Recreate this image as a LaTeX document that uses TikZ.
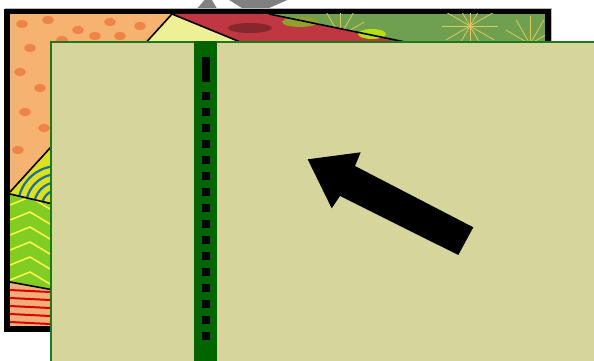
\documentclass[tikz,border=0pt]{standalone}
\definecolor{caqui}{RGB}{214,214,156}
\definecolor{bordeverde}{RGB}{30,120,30}
\definecolor{bandaverde}{RGB}{0,100,0}
\definecolor{naranjaclaro}{RGB}{246,178,112}
\definecolor{naranjaoscuro}{RGB}{236,110,40}
\definecolor{amarillopalido}{RGB}{238,240,150}
\definecolor{rojofoto}{RGB}{190,55,65}
\definecolor{verdecactus}{RGB}{110,160,80}
\definecolor{espina}{RGB}{225,200,90}
\definecolor{lima}{RGB}{130,205,35}
\definecolor{azulfoto}{RGB}{30,110,160}
\definecolor{rayas}{RGB}{240,175,120}
\begin{document}
\begin{tikzpicture}[x=1pt, y=-1pt, line join=miter]
  \useasboundingbox (0,0) rectangle (594,361);
  \clip (0,0) rectangle (594,361);
  % la flecha gris, casi toda escondida detrás del marco
  \fill[gray] (226,-2) -- (292,-2) -- (253,15) -- cycle;
  \fill[gray] (209,-5) -- (194,12) -- (219,12) -- cycle;
  % el marco negro de la foto
  \fill[gray!55] (5,8) rectangle (552,331);
  \fill[black] (4,9) rectangle (551,332);
  % el cactus verde, de fondo
  \begin{scope}
    \clip (10,14) rectangle (545,326);
    \fill[verdecactus] (10,14) rectangle (545,326);
    \foreach \cx/\cy in {470/26, 340/36, 530/44} {
      \foreach \a in {0,30,...,330} { \draw[espina, line width=0.8] (\cx,\cy) -- ++(\a:28); }
    }
  \end{scope}
  % el trozo rojo de arriba
  \fill[rojofoto] (172,14) -- (269,14) -- (400,41) -- (400,70) -- (150,70) -- cycle;
  \fill[lima!70!rojofoto] (300,22) ellipse (18 and 5);
  \fill[lima!60!yellow] (372,34) ellipse (14 and 5);
  \fill[rojofoto!70!black] (250,28) ellipse (22 and 5);
  % el triángulo amarillo
  \fill[amarillopalido] (172,14) -- (250,46) -- (250,70) -- (120,70) -- cycle;
  % el naranja de la esquina
  \begin{scope}
    \clip (10,14) -- (172,14) -- (10,192) -- cycle;
    \fill[naranjaclaro] (10,14) rectangle (172,192);
    \foreach \x/\y in {22/24, 48/20, 78/30, 110/22, 140/26, 30/48, 62/40, 95/36, 20/72, 40/88, 25/112, 44/128, 18/150, 36/170, 120/36} {
      \fill[naranjaoscuro!85] (\x,\y) ellipse (6 and 4);
    }
  \end{scope}
  % el sol azul y amarillo
  \begin{scope}
    \clip (10,192) -- (70,126) -- (70,208) -- (10,194) -- cycle;
    \fill[yellow!70!lima] (10,120) rectangle (70,210);
    \foreach \r in {8,16,24,32,40} { \draw[azulfoto, line width=2.2] (58,206) circle (\r); }
  \end{scope}
  % la franja lima
  \begin{scope}
    \clip (10,194) -- (70,208) -- (70,293) -- (10,282) -- cycle;
    \fill[lima] (10,190) rectangle (70,295);
    \foreach \y in {205,220,...,280} { \draw[yellow!70, line width=1.5] (10,\y) -- (30,\y-8) -- (50,\y+4) -- (70,\y-6); }
  \end{scope}
  % las rayas rojas de abajo
  \begin{scope}
    \clip (10,282) -- (70,293) -- (70,326) -- (10,326) -- cycle;
    \fill[rayas] (10,280) rectangle (70,326);
    \foreach \y in {290,298,...,326} { \draw[red!85!black, line width=2] (10,\y) -- (70,\y+3); }
  \end{scope}
  % las rayas negras entre los trozos
  \draw[line width=1.6] (172,14) -- (10,192);
  \draw[line width=1.6] (172,14) -- (250,46);
  \draw[line width=1.6] (269,14) -- (410,43);
  \draw[line width=1.6] (10,194) -- (70,208);
  \draw[line width=1.6] (10,282) -- (70,293);
  % el panel caqui, encima de la foto
  \filldraw[fill=caqui, draw=bordeverde, line width=1.6] (50.8,41.8) rectangle (620,380);
  % la banda verde con su línea de trazos
  \fill[bandaverde] (194,41) rectangle (217,361);
  \fill (202,57) rectangle (210,82);
  \foreach \y in {92,108,...,332} { \fill (202,\y) rectangle ++(8,7.5); }
  % la flecha negra
  \fill (307.7,159.3) -- (360.7,152.3) -- (355,166) -- (473.3,227.3) -- (458.3,255)
    -- (340,196) -- (331.7,208.3) -- cycle;
\end{tikzpicture}
\end{document}
